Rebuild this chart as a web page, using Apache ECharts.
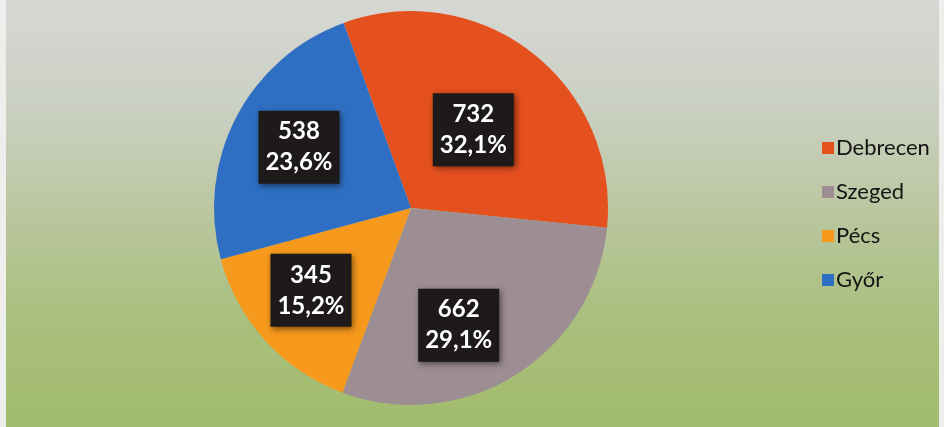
<!DOCTYPE html>
<html>
<head>
<meta charset="utf-8">
<script src="https://cdn.jsdelivr.net/npm/echarts@6/dist/echarts.min.js"></script>
<style>
  html, body { margin: 0; padding: 0; background: #eeeeec; }
  #chart { position: absolute; left: 6px; top: 0; width: 933px; height: 427px; }
</style>
</head>
<body>
<div id="chart"></div>
<script>
// varosok es ertekek
const cities = ['Debrecen', 'Szeged', 'Pécs', 'Győr']
const values = [732, 662, 345, 538]
const colors = ['#E5501F', '#9C8E93', '#F7991C', '#2F6FC3']
// cimkek eltolasa (a kezzel elhuzott dobozok miatt)
const labelOffsets = [[0, 2], [-6, 31], [-25, 14], [-22, -14]]

const total = values.reduce((a, b) => a + b, 0)

const chart = echarts.init(document.getElementById('chart'))
chart.setOption({
  backgroundColor: {
    type: 'linear', x: 0, y: 0, x2: 0, y2: 1,
    colorStops: [
      { offset: 0, color: '#D6D7D4' },
      { offset: 0.25, color: '#CBD0C3' },
      { offset: 0.5, color: '#BAC69F' },
      { offset: 0.75, color: '#A9BF7D' },
      { offset: 1, color: '#A1BC6D' }
    ]
  },
  animation: false,
  legend: {
    orient: 'vertical',
    left: 811,
    top: 132,
    itemWidth: 12,
    itemHeight: 12,
    itemGap: 22,
    icon: 'rect',
    textStyle: {
      fontFamily: 'Lato',
      fontSize: 22,
      color: '#141414',
      padding: [0, 0, 0, -3]
    },
    data: cities
  },
  series: [
    {
      type: 'pie',
      center: [405, 208],
      radius: 197,
      startAngle: 110,
      clockwise: true,
      label: {
        show: true,
        position: 'inside',
        formatter: p => p.value + '\n' + (p.value / total * 100).toFixed(1).replace('.', ',') + '%',
        color: '#fff',
        fontFamily: 'Lato',
        fontWeight: 'bold',
        fontSize: 24,
        lineHeight: 31,
        backgroundColor: '#1E1A1A',
        padding: [6, 7, 5, 7],
        shadowColor: 'rgba(0,0,0,0.5)',
        shadowBlur: 6,
        shadowOffsetX: 2,
        shadowOffsetY: 2
      },
      labelLine: { show: false },
      emphasis: { disabled: true },
      data: cities.map((c, i) => ({
        name: c,
        value: values[i],
        itemStyle: { color: colors[i] },
        label: { offset: labelOffsets[i] }
      }))
    }
  ]
})
</script>
</body>
</html>
